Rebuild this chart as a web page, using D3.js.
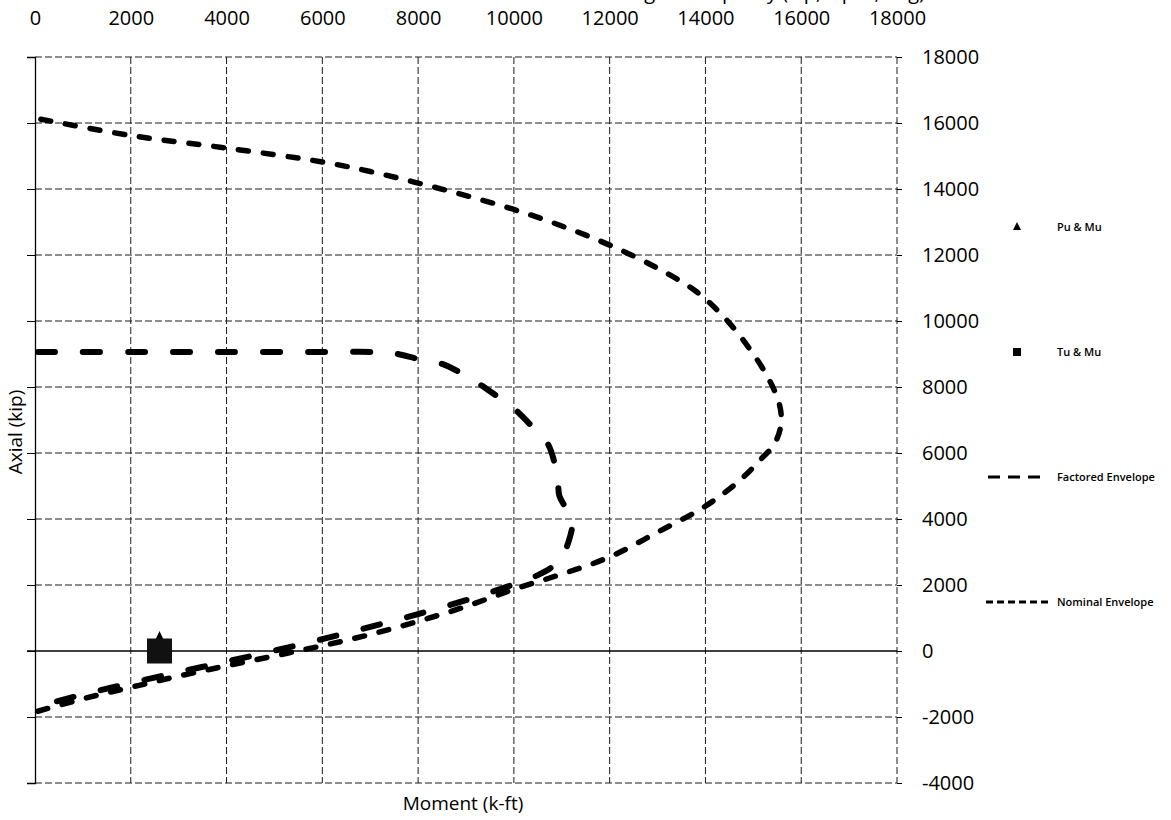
<!DOCTYPE html>
<html>
<head>
<meta charset="utf-8">
<script src="https://cdn.jsdelivr.net/npm/d3@7"></script>
<style>
  html, body { margin: 0; padding: 0; background: #fff; }
  svg { display: block; }
  text { font-family: "Open Sans", "Liberation Sans", sans-serif; fill: #000; }
</style>
</head>
<body>
<svg id="chart" width="1171" height="820"></svg>
<script>
// ---- data ----
const momentTicks = [0, 2000, 4000, 6000, 8000, 10000, 12000, 14000, 16000, 18000];
const axialTicks = [-4000, -2000, 0, 2000, 4000, 6000, 8000, 10000, 12000, 14000, 16000, 18000];

// listed from the top (pure compression) down to pure tension
const nominalMoment = [0, 2000, 4000, 6000, 7000, 8000, 9000, 10000, 11000, 12000, 13000, 13800, 14400, 14900, 15300, 15540, 15580, 15450, 15150, 14700, 14000, 13000, 12000, 11000, 10000, 9000, 8000, 7000, 6000, 5000, 4000, 3000, 2000, 1000, 0];
const nominalAxial  = [16150, 15620, 15240, 14820, 14530, 14180, 13800, 13380, 12880, 12300, 11600, 10900, 10100, 9200, 8300, 7500, 6900, 6300, 5800, 5150, 4390, 3600, 2850, 2330, 1870, 1350, 900, 500, 160, -150, -450, -760, -1100, -1450, -1850];

const factoredMoment = [0, 2000, 4000, 6000, 7100, 7500, 8000, 8500, 9100, 9600, 10000, 10350, 10700, 10850, 10920, 10950, 11100, 11220, 11150, 11000, 10800, 10500, 10000, 9000, 8000, 7000, 6000, 5000, 4000, 3000, 2000, 1000, 0];
const factoredAxial  = [9060, 9060, 9060, 9060, 9060, 9020, 8850, 8700, 8250, 7770, 7350, 6850, 6300, 5700, 5150, 4700, 4300, 3950, 3350, 2850, 2550, 2300, 2020, 1540, 1120, 730, 360, 10, -320, -640, -970, -1320, -1700];

const puMu = { moment: 2600, axial: 150 };
const tuMu = { moment: 2600, axial: 0 };

const legendLabels = ["Pu & Mu", "Tu & Mu", "Factored Envelope", "Nominal Envelope"];
const titleText = "Interaction Diagram Capacity (kip, kip-ft, deg)";
const xTitle = "Moment (k-ft)";
const yTitle = "Axial (kip)";

// ---- chart ----
const svg = d3.select("#chart");
const x = d3.scaleLinear().domain([0, 18000]).range([35, 897]);
const y = d3.scaleLinear().domain([-4000, 18000]).range([783, 57]);
const fmt = d => String(d);

// title, cut off at the top edge as in the source
svg.append("text").attr("x", 925).attr("y", -1).attr("text-anchor", "end")
  .style("font-size", "20px").text(titleText);

// grid
const grid = svg.append("g").attr("stroke", "#1a1a1a").attr("stroke-width", 1)
  .attr("stroke-dasharray", "7,3").attr("fill", "none");
grid.selectAll("line.v").data(momentTicks.filter(d => d !== 0)).join("line")
  .attr("x1", d => x(d)).attr("x2", d => x(d)).attr("y1", y(18000)).attr("y2", y(-4000));
grid.selectAll("line.h").data(axialTicks.filter(d => d !== 0)).join("line")
  .attr("x1", x(0)).attr("x2", x(18000)).attr("y1", d => y(d)).attr("y2", d => y(d));

// solid axes
svg.append("line").attr("x1", x(0) - 8).attr("x2", x(18000)).attr("y1", y(0)).attr("y2", y(0))
  .attr("stroke", "#000").attr("stroke-width", 1.3);
const leftAxis = svg.append("g").attr("transform", `translate(${x(0)},0)`)
  .call(d3.axisLeft(y).tickValues(axialTicks).tickSize(8).tickFormat(""));
leftAxis.select(".domain").attr("stroke-width", 1.3);

// top labels
const topAxis = svg.append("g").attr("transform", "translate(0,28)")
  .call(d3.axisTop(x).tickValues(momentTicks).tickSize(0).tickPadding(3).tickFormat(fmt));
topAxis.select(".domain").remove();
topAxis.selectAll("text").style("font-size", "20px").style("font-family", "'Open Sans', sans-serif");

// right labels
const rightAxis = svg.append("g").attr("transform", `translate(${x(18000)},0)`)
  .call(d3.axisRight(y).tickValues(axialTicks).tickSize(5).tickPadding(20).tickFormat(fmt));
rightAxis.select(".domain").remove();
rightAxis.selectAll("text").style("font-size", "20px").style("font-family", "'Open Sans', sans-serif");

// axis titles
svg.append("text").attr("x", 463).attr("y", 810).attr("text-anchor", "middle")
  .style("font-size", "19px").text(xTitle);
svg.append("text").attr("transform", "translate(22,432) rotate(-90)").attr("text-anchor", "middle")
  .style("font-size", "19px").text(yTitle);

// envelopes
const line = d3.line().x(d => x(d[0])).y(d => y(d[1])).curve(d3.curveCatmullRom.alpha(0.5));
const nominal = nominalMoment.map((m, i) => [m, nominalAxial[i]]);
const factored = factoredMoment.map((m, i) => [m, factoredAxial[i]]);

svg.append("path").datum(nominal).attr("d", line).attr("fill", "none")
  .attr("stroke", "#000").attr("stroke-width", 5.5).attr("stroke-linecap", "round")
  .attr("stroke-dasharray", "10,15").attr("stroke-dashoffset", -6);
svg.append("path").datum(factored).attr("d", line).attr("fill", "none")
  .attr("stroke", "#000").attr("stroke-width", 6).attr("stroke-linecap", "round")
  .attr("stroke-dasharray", "17,28").attr("stroke-dashoffset", -3);

// points
const px = x(puMu.moment), py = y(puMu.axial);
svg.append("path").attr("d", `M${px},${py - 15}L${px + 9},${py + 4}L${px - 9},${py + 4}Z`).attr("fill", "#000");
const tx = x(tuMu.moment), ty = y(tuMu.axial);
svg.append("rect").attr("x", tx - 12.5).attr("y", ty - 12.5).attr("width", 25).attr("height", 25).attr("fill", "#111");

// legend
const lg = svg.append("g");
const ly = [227, 352, 477, 602];
lg.append("path").attr("d", `M1017,${ly[0] - 5}L1021,${ly[0] + 3}L1013,${ly[0] + 3}Z`).attr("fill", "#000");
lg.append("rect").attr("x", 1013).attr("y", ly[1] - 4).attr("width", 8).attr("height", 8).attr("fill", "#000");
lg.append("line").attr("x1", 988).attr("x2", 1046).attr("y1", ly[2]).attr("y2", ly[2])
  .attr("stroke", "#000").attr("stroke-width", 3).attr("stroke-dasharray", "12,8");
lg.append("line").attr("x1", 986).attr("x2", 1049).attr("y1", ly[3]).attr("y2", ly[3])
  .attr("stroke", "#000").attr("stroke-width", 3).attr("stroke-dasharray", "7,4");
lg.selectAll("text.l").data(legendLabels).join("text")
  .attr("x", 1057).attr("y", (d, i) => ly[i]).attr("dy", "0.35em")
  .style("font-size", "11px").style("font-weight", "600").text(d => d);
</script>
</body>
</html>
